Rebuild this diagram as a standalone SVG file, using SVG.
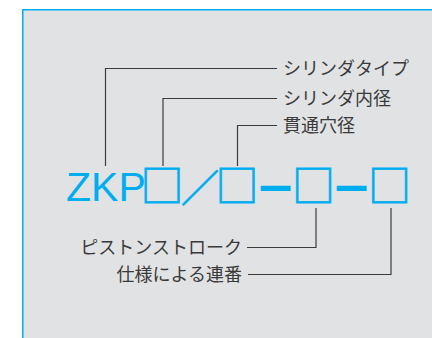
<svg xmlns="http://www.w3.org/2000/svg" width="432" height="338" viewBox="0 0 432 338">
<style>
.lbl{font-family:"Noto Sans CJK JP","Noto Sans",sans-serif;font-size:18px;fill:#3a3a3a}
.ln{fill:none;stroke:#3c3c3c;stroke-width:1.2}
.code{fill:#00aeef}
.cj{font-family:"Noto Sans CJK JP",sans-serif;font-size:43px;stroke:#00aeef;stroke-width:0.8}
.sl{font-size:38px}
.dash{font-size:37.5px;stroke-width:2.6}
</style>
<rect x="0" y="0" width="432" height="338" fill="#ffffff"/>
<rect id="frame" x="22.75" y="9.75" width="420" height="340" fill="#e1e2e4" stroke="#00aeef" stroke-width="1.5"/>
<g id="connectors">
<polyline class="ln" points="105.5,166 105.5,68.5 277,68.5"/>
<polyline class="ln" points="163,166 163,98.5 277,98.5"/>
<polyline class="ln" points="237.5,166 237.5,125.5 277,125.5"/>
<polyline class="ln" points="316,208 316,247.5 247,247.5"/>
<polyline class="ln" points="391,208 391,274.5 248,274.5"/>
</g>
<g id="code">
<text class="code" x="66" y="201" style="font-family:'Liberation Sans',Arial,sans-serif;font-size:41px">ZKP</text>
<text class="code cj" x="140.5" y="202">□<tspan class="sl" dx="-2.5">／</tspan><tspan dx="-3.5">□</tspan><tspan class="dash" dx="-1.75">－</tspan><tspan dx="-2.25">□</tspan><tspan class="dash" dx="-2.25">－</tspan><tspan dx="-2.25">□</tspan></text>
</g>
<g id="n1"><text class="lbl" x="283" y="75.3">シリンダタイプ</text></g>
<g id="n2"><text class="lbl" x="283" y="105.3">シリンダ内径</text></g>
<g id="n3"><text class="lbl" x="283" y="132.3">貫通穴径</text></g>
<g id="n4"><text class="lbl" x="242" y="254.3" text-anchor="end">ピストンストローク</text></g>
<g id="n5"><text class="lbl" x="242" y="281.3" text-anchor="end">仕様による連番</text></g>
</svg>
